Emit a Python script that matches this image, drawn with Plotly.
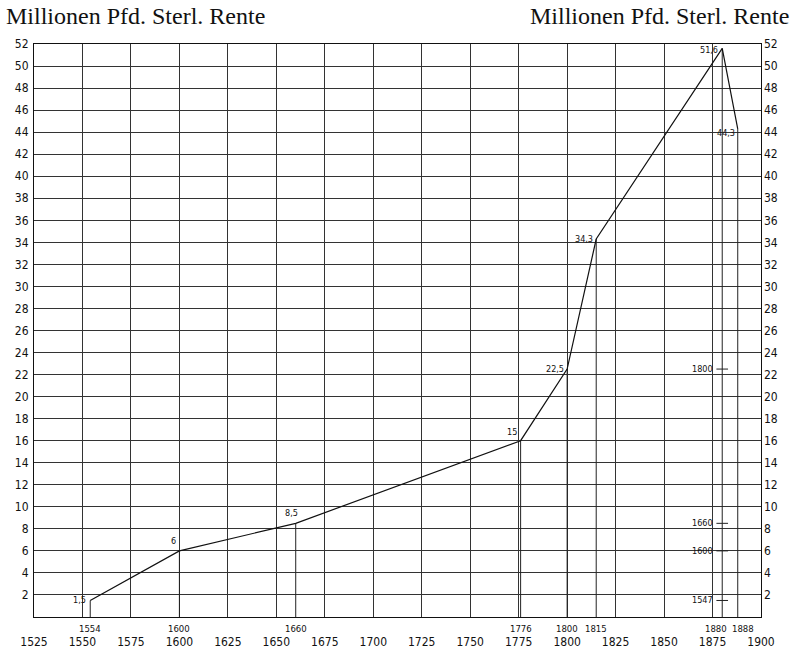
import plotly.graph_objects as go

# Data: year, value (Mill. Pfd. Sterl. Rente), label as printed
years = [1554, 1600, 1660, 1776, 1800, 1815, 1880, 1888]
values = [1.5, 6, 8.5, 16, 22.5, 34.3, 51.6, 44.3]
point_labels = ["1,5", "6", "8,5", "15", "22,5", "34,3", "51,6", "44,3"]
year_labels = ["1554", "1600", "1660", "1776", "1800", "1815", "1880", "1888"]

# Reference marks on the 1880 line
ref_labels = ["1800", "1660", "1600", "1547"]
ref_values = [22.5, 8.5, 6, 1.5]

x_ticks = list(range(1525, 1901, 25))
y_ticks = list(range(2, 53, 2))

title_text = "Millionen Pfd. Sterl. Rente"

fig = go.Figure()

# drop lines
dx, dy = [], []
for x, v in zip(years, values):
    dx += [x, x, None]
    dy += [0, v, None]
fig.add_trace(go.Scatter(x=dx, y=dy, mode="lines",
                         line=dict(color="#222", width=1), hoverinfo="skip",
                         showlegend=False))

# main line
fig.add_trace(go.Scatter(x=years, y=values, mode="lines",
                         line=dict(color="#111", width=1.2), showlegend=False))

# small reference ticks on 1880 line
ref_x = years[6]
tx, ty = [], []
for v in ref_values:
    tx += [ref_x - 3, ref_x + 3, None]
    ty += [v, v, None]
fig.add_trace(go.Scatter(x=tx, y=ty, mode="lines",
                         line=dict(color="#222", width=1), hoverinfo="skip",
                         showlegend=False))

lab_font = dict(family="DejaVu Sans Condensed", size=9, color="#111")
offsets = {
    0: dict(xanchor="right", yanchor="middle", xshift=-2, yshift=0),
    1: dict(xanchor="center", yanchor="bottom", xshift=-6, yshift=3),
    2: dict(xanchor="center", yanchor="bottom", xshift=-4, yshift=3),
    3: dict(xanchor="right", yanchor="bottom", xshift=-2, yshift=2),
    4: dict(xanchor="right", yanchor="middle", xshift=-1, yshift=0),
    5: dict(xanchor="right", yanchor="middle", xshift=-1, yshift=0),
    6: dict(xanchor="right", yanchor="middle", xshift=-2, yshift=-2),
    7: dict(xanchor="right", yanchor="middle", xshift=-1, yshift=-4),
}
for i, (x, v, t) in enumerate(zip(years, values, point_labels)):
    fig.add_annotation(x=x, y=v, text=t, showarrow=False, font=lab_font,
                       **offsets[i])

for t, v in zip(ref_labels, ref_values):
    fig.add_annotation(x=ref_x - 3, y=v, text=t, showarrow=False, font=lab_font,
                       xanchor="right", yanchor="middle", xshift=-1)

# year labels row under axis
year_shift = [0, 0, 0, 0, 0, 0, -6, 5]
for x, t, s in zip(years, year_labels, year_shift):
    fig.add_annotation(x=x, y=0, yref="y", text=t, showarrow=False,
                       font=dict(family="DejaVu Sans Condensed", size=9.5, color="#111"),
                       xanchor="center", yanchor="top", yshift=-4, xshift=s)

# titles
title_font = dict(family="Liberation Serif", size=24, color="#111")
fig.add_annotation(x=0, y=1, xref="paper", yref="paper", text=title_text,
                   showarrow=False, font=title_font, xanchor="left",
                   yanchor="bottom", xshift=-30, yshift=13)
fig.add_annotation(x=1, y=1, xref="paper", yref="paper", text=title_text,
                   showarrow=False, font=title_font, xanchor="right",
                   yanchor="bottom", xshift=30, yshift=13)

axis_common = dict(showline=True, linecolor="#111", linewidth=1.2,
                   gridcolor="#333", gridwidth=1, zeroline=False, ticks="",
                   automargin=False)
tick_font = dict(family="DejaVu Sans Condensed", size=12, color="#111")

fig.update_layout(
    width=794, height=658,
    margin=dict(l=34, r=33, t=44, b=41),
    paper_bgcolor="white", plot_bgcolor="white",
    showlegend=False,
    xaxis=dict(range=[1525, 1900], tickvals=x_ticks,
               ticktext=[str(v) for v in x_ticks], tickfont=tick_font,
               mirror=True, ticklabelstandoff=13, **axis_common),
    yaxis=dict(range=[0, 52], tickvals=y_ticks,
               ticktext=[str(v) for v in y_ticks], tickfont=tick_font,
               mirror=True, ticklabelstandoff=2, **axis_common),
    yaxis2=dict(range=[0, 52], tickvals=y_ticks,
                ticktext=[str(v) for v in y_ticks], tickfont=tick_font,
                overlaying="y", side="right", showgrid=False, automargin=False,
                ticklabelstandoff=2, showline=False, zeroline=False, ticks=""),
)
# invisible trace so the right-hand axis labels are drawn
fig.add_trace(go.Scatter(x=[years[0]], y=[values[0]], yaxis="y2", mode="markers",
                         marker=dict(opacity=0), hoverinfo="skip", showlegend=False))

fig.write_html("out.html", config={"displayModeBar": False},
               post_script="document.body.style.margin='0';document.body.style.overflow='hidden';")
